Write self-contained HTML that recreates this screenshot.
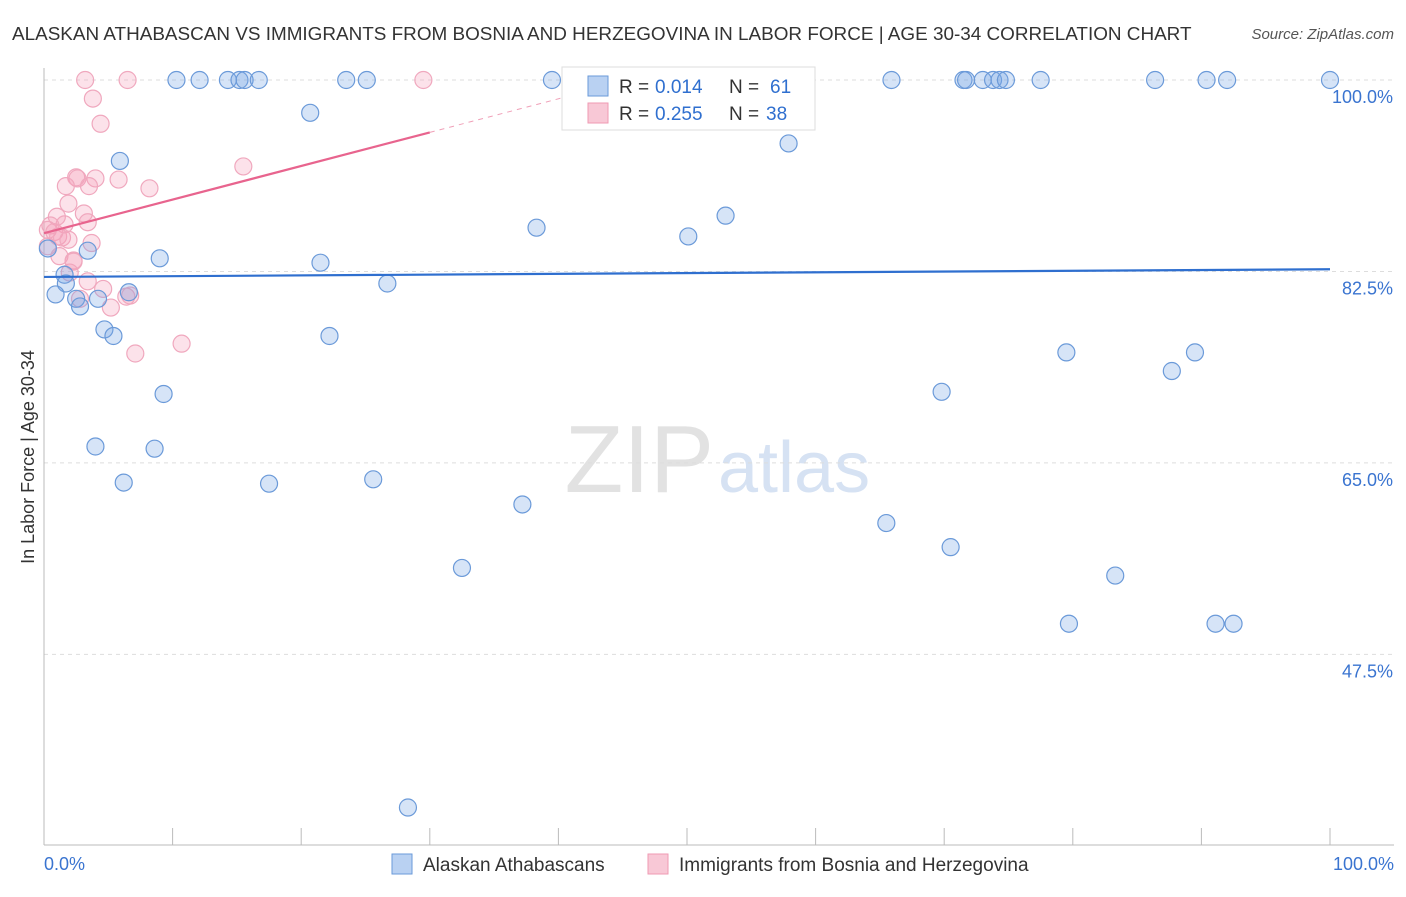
<!DOCTYPE html>
<html><head><meta charset="utf-8"><style>
body{margin:0;background:#fff;font-family:"Liberation Sans",sans-serif;}
svg text{font-family:"Liberation Sans",sans-serif;}
</style></head><body>
<svg id="c" width="1406" height="892">
<text x="12" y="40" font-size="18.9" fill="#333">ALASKAN ATHABASCAN VS IMMIGRANTS FROM BOSNIA AND HERZEGOVINA IN LABOR FORCE | AGE 30-34 CORRELATION CHART</text>
<text x="1394" y="39" font-size="15" fill="#555" font-style="italic" text-anchor="end">Source: ZipAtlas.com</text>
<text x="714" y="492" font-size="96" fill="#e2e2e2" text-anchor="end" font-family="Liberation Serif">ZIP</text>
<text x="718" y="492" font-size="72" fill="#d6e2f3">atlas</text>
<text transform="translate(34,457) rotate(-90)" font-size="18" fill="#333" text-anchor="middle">In Labor Force | Age 30-34</text>
<g id="grid"></g><g id="marks"></g>
<g>
<rect x="562" y="67" width="253" height="63" fill="#fff" stroke="#ddd"/>
<rect x="588" y="76" width="20" height="20" fill="#b9d1f2" stroke="#6a9ad9"/>
<text x="619" y="93" font-size="19" fill="#333">R =</text>
<text x="655" y="93" font-size="19" fill="#2f6fcf">0.014</text>
<text x="729" y="93" font-size="19" fill="#333">N =</text>
<text x="770" y="93" font-size="19" fill="#2f6fcf">61</text>
<rect x="588" y="103" width="20" height="20" fill="#f8c8d6" stroke="#ef9ab3"/>
<text x="619" y="120" font-size="19" fill="#333">R =</text>
<text x="655" y="120" font-size="19" fill="#2f6fcf">0.255</text>
<text x="729" y="120" font-size="19" fill="#333">N =</text>
<text x="766" y="120" font-size="19" fill="#2f6fcf">38</text>
</g>
<g>
<rect x="392" y="854" width="20" height="20" fill="#b9d1f2" stroke="#6a9ad9"/>
<text x="423" y="871" font-size="19" fill="#333">Alaskan Athabascans</text>
<rect x="648" y="854" width="20" height="20" fill="#f8c8d6" stroke="#ef9ab3"/>
<text x="679" y="871" font-size="19" fill="#333">Immigrants from Bosnia and Herzegovina</text>
</g>
</svg>
<script>
const yTicks=[100,82.5,65,47.5];
const yTickLabels=["100.0%","82.5%","65.0%","47.5%"];
const xLabels=["0.0%","100.0%"];
const blueX=[10.3,12.1,14.3,15.2,15.6,16.7,23.5,25.1,39.5,65.9,71.5,71.7,73.0,73.8,74.3,74.8,77.5,86.4,90.4,92.0,100,20.7,5.9,57.9,53.0,38.3,50.1,0.3,3.4,9.0,21.5,1.6,1.7,26.7,0.9,6.6,2.5,4.2,2.8,4.7,5.4,22.2,79.5,89.5,87.7,9.3,69.8,4.0,8.6,6.2,17.5,25.6,37.2,65.5,70.5,32.5,83.3,79.7,91.1,92.5,28.3];
const blueY=[100,100,100,100,100,100,100,100,100,100,100,100,100,100,100,100,100,100,100,100,100,97.0,92.6,94.2,87.6,86.5,85.7,84.6,84.4,83.7,83.3,82.2,81.4,81.4,80.4,80.6,80.0,80.0,79.3,77.2,76.6,76.6,75.1,75.1,73.4,71.3,71.5,66.5,66.3,63.2,63.1,63.5,61.2,59.5,57.3,55.4,54.7,50.3,50.3,50.3,33.5];
const pinkX=[3.2,6.5,29.5,3.8,4.4,15.5,2.5,2.6,4.0,1.7,3.5,5.8,8.2,1.9,3.1,1.0,3.4,1.6,0.5,0.3,0.8,1.1,1.4,1.9,3.7,0.3,1.2,2.3,2.0,3.4,4.6,2.8,6.4,6.7,5.2,7.1,10.7,2.3];
const pinkY=[100,100,100,98.3,96.0,92.1,91.1,91.0,91.0,90.3,90.3,90.9,90.1,88.7,87.8,87.5,87.0,86.8,86.7,86.3,86.1,85.7,85.6,85.4,85.1,84.8,83.9,83.5,82.4,81.6,80.9,80.0,80.2,80.3,79.2,75.0,75.9,83.4];
const blueTrend=[82.0,82.7];
const pinkTrend=[86.0,0.307];
const xs=v=>44+v*12.86, ys=v=>80+(100-v)*10.94;
const NS="http://www.w3.org/2000/svg";
const grid=document.getElementById('grid'), marks=document.getElementById('marks');
function mk(p,tag,a){const e=document.createElementNS(NS,tag);for(const k in a)e.setAttribute(k,a[k]);p.appendChild(e);return e;}
yTicks.forEach((t,i)=>{
 const l=mk(grid,'line',{x1:44,x2:1394,y1:ys(t),y2:ys(t),stroke:'#ddd','stroke-dasharray':'4,4'});
 
 
 const tx=mk(grid,'text',{x:1393,y:ys(t)+23,'font-size':18,fill:'#3a74d0','text-anchor':'end'});tx.textContent=yTickLabels[i];
 
 
});
let ax=mk(grid,'line',{x1:44,x2:44,y1:68,y2:845,stroke:'#bbb'});


let bx=mk(grid,'line',{x1:44,x2:1394,y1:845,y2:845,stroke:'#bbb'});


for(let i=1;i<=10;i++){const t=mk(grid,'line',{x1:xs(i*10),x2:xs(i*10),y1:828,y2:845,stroke:'#bbb'});
 
 }
[[0,'start',44],[100,'end',1394]].forEach((d,i)=>{const t=mk(grid,'text',{x:d[2],y:870,'font-size':18,fill:'#3a74d0','text-anchor':d[1]});t.textContent=xLabels[i];
 
 });
pinkX.forEach((x,i)=>{const c=mk(marks,'circle',{cx:xs(x),cy:ys(pinkY[i]),r:8.5,fill:'rgba(245,160,185,0.3)',stroke:'#f0a8be','stroke-width':1.2});
 
 });
blueX.forEach((x,i)=>{const c=mk(marks,'circle',{cx:xs(x),cy:ys(blueY[i]),r:8.5,fill:'rgba(120,165,230,0.3)',stroke:'#6b9ad9','stroke-width':1.2});
 
 });
let bl=mk(marks,'line',{x1:xs(0),x2:xs(100),y1:ys(blueTrend[0]),y2:ys(blueTrend[1]),stroke:'#2f6fcf','stroke-width':2.2});


const pv=x=>pinkTrend[0]+pinkTrend[1]*x;
let pl=mk(marks,'line',{x1:xs(0),x2:xs(30),y1:ys(pv(0)),y2:ys(pv(30)),stroke:'#e8648e','stroke-width':2.2});


let pd=mk(marks,'line',{x1:xs(30),x2:xs(42),y1:ys(pv(30)),y2:ys(pv(42)),stroke:'#f0a0b8','stroke-width':1,'stroke-dasharray':'5,5'});


</script>
</body></html>
